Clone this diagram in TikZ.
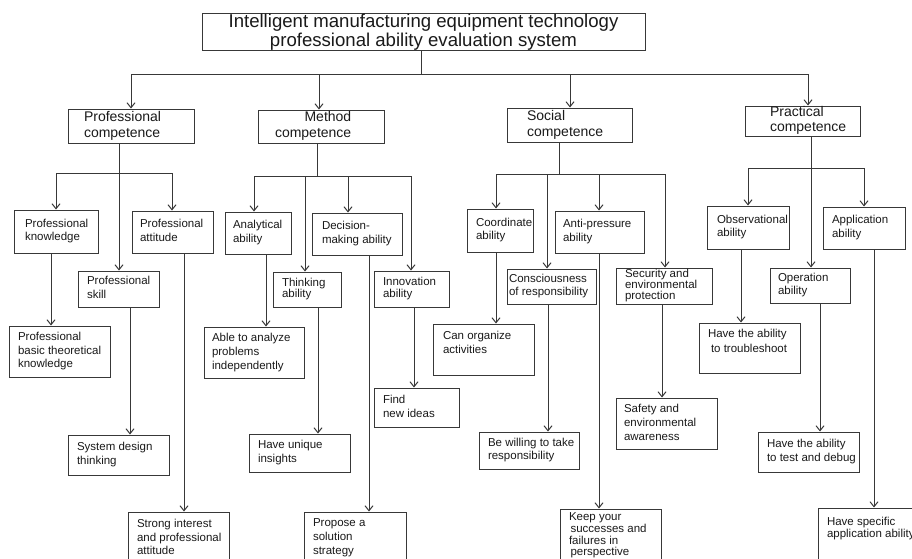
\documentclass[tikz,border=0pt]{standalone}
\usepackage{fontspec}
\setmainfont{Liberation Sans}
\usetikzlibrary{arrows.meta}
\definecolor{ln}{HTML}{383838}
\definecolor{tx}{HTML}{1A1A1A}
% #1 extra style, #2 name, #3 x1, #4 y1, #5 x2, #6 y2, #7 left text offset, #8 lines
\newcommand{\boxnode}[8][]{%
  \node[box,#1,minimum width={(#5)-(#3)},minimum height={(#6)-(#4)}] (#2) at ({((#3)+(#5))/2},{((#4)+(#6))/2})
  {\makebox[\dimexpr #5pt-#3pt-#7pt-#7pt\relax][l]{\begin{tabular}{@{}l@{}}#8\end{tabular}}};}
\begin{document}
\begin{tikzpicture}[x=1pt,y=-1pt,
  box/.style={draw=ln, line width=1pt, inner sep=0pt, text=tx, font=\fontsize{11.5}{13.5}\selectfont},
  lone/.style={font=\fontsize{14}{16}\selectfont},
  wire/.style={draw=ln, line width=1pt},
  arr/.style={draw=ln, line width=1pt, -{Straight Barb[length=5pt,width=8pt]}}]
\useasboundingbox (0,0) rectangle (912,558);
\fill[white] (0,0) rectangle (912,558);

% title
\node[box, font=\fontsize{18.6}{19}\selectfont, minimum width=443, minimum height=37, align=center] (title) at (423.5,32)
  {Intelligent manufacturing equipment technology\\professional ability evaluation system};

% level 1
\boxnode[lone]{pc}{68}{109}{194}{143}{16}{Professional\\competence}
\boxnode[lone]{mc}{258}{110}{384}{143}{17}{\hfill Method\hfill\\competence}
\boxnode[lone]{sc}{507}{108}{632}{142}{20}{Social\\competence}
\boxnode[lone,font=\fontsize{14}{15}\selectfont]{pr}{745}{106}{860}{136}{25}{Practical\\competence}

% level 2
\boxnode{pk}{14}{210}{98}{253}{11}{Professional\\knowledge}
\boxnode[font=\fontsize{11.5}{14}\selectfont]{ps}{78}{271}{159}{307}{9}{Professional\\skill}
\boxnode{pa}{132}{211}{213}{253}{8}{Professional\\attitude}
\boxnode{an}{225}{212}{291}{254}{8}{Analytical\\ability}
\boxnode[font=\fontsize{11.5}{11}\selectfont]{th}{273}{272}{341}{307}{9}{Thinking\\ability}
\boxnode{dm}{312}{213}{402}{255}{10}{Decision-\\making ability}
\boxnode[font=\fontsize{11.5}{11}\selectfont]{inn}{374}{271}{449}{307}{9}{Innovation\\ability}
\boxnode{co}{467}{209}{533}{252}{9}{Coordinate\\ability}
\boxnode[font=\fontsize{11.5}{12.6}\selectfont]{cr}{507}{269}{596}{304}{2}{Consciousness\\of responsibility}
\boxnode{ap}{555}{211}{644}{253}{8}{Anti-pressure\\ability}
\boxnode[font=\fontsize{11.5}{9.5}\selectfont]{se}{616}{268}{712}{304}{9}{Security and\\environmental\\protection}
\boxnode{ob}{707}{206}{789}{249}{10}{Observational\\ability}
\boxnode[font=\fontsize{11.5}{13}\selectfont]{op}{770}{268}{850}{303}{8}{Operation\\ability}
\boxnode{aa}{823}{207}{905}{249}{9}{Application\\ability}

% level 3
\boxnode{pbt}{9}{326}{110}{377}{9}{Professional\\basic theoretical\\knowledge}
\boxnode[font=\fontsize{11.5}{13.8}\selectfont]{ab}{204}{327}{304}{378}{8}{Able to analyze\\problems\\independently}
\boxnode[font=\fontsize{11.5}{14.5}\selectfont]{cao}{433}{324}{534}{375}{10}{Can organize\\activities\\[12pt]}
\boxnode[font=\fontsize{11.5}{14.5}\selectfont]{ht}{699}{323}{800}{373}{9}{Have the ability\\\hspace{3pt}to troubleshoot\\[12pt]}
\boxnode[font=\fontsize{11.5}{14}\selectfont]{fn}{374}{388}{459}{427}{9}{Find\\new ideas}
\boxnode{sdt}{68}{435}{169}{475}{9}{System design\\thinking}
\boxnode{hu}{249}{434}{350}{472}{9}{Have unique\\insights}
\boxnode[font=\fontsize{11.5}{13.7}\selectfont]{si}{128}{512}{229}{565}{9}{Strong interest\\and professional\\attitude}
\boxnode[font=\fontsize{11.5}{13.8}\selectfont]{pss}{304}{512}{406}{563}{9}{Propose a\\solution\\strategy}
\boxnode[font=\fontsize{11.5}{12.6}\selectfont]{bw}{479}{432}{579}{469}{9}{Be willing to take\\responsibility}
\boxnode[font=\fontsize{11.5}{14.2}\selectfont]{sa}{616}{398}{717}{449}{8}{Safety and\\environmental\\awareness}
\boxnode{td}{758}{432}{859}{472}{9}{Have the ability\\to test and debug}
\boxnode[font=\fontsize{11.5}{11}\selectfont]{ky}{560}{509}{661}{563}{9}{Keep your\\\hspace{1.5pt}successes and\\failures in\\\hspace{1.5pt}perspective}
\boxnode[font=\fontsize{11.5}{12.6}\selectfont]{hs}{818}{508}{930}{575}{9}{Have specific\\application ability\\[25pt]}

% title to level 1
\coordinate (tb) at (421,74);
\draw[wire] ([xshift=-2.5pt]title.south) -- (tb);
\draw[arr] (tb) -| (pc.north);
\draw[arr] (tb) -| ([xshift=-2pt]mc.north);
\draw[arr] (tb) -| ([xshift=0.5pt]sc.north);
\draw[arr] (tb) -| ([xshift=5.5pt]pr.north);

% professional group
\coordinate (pcb) at (119,173);
\draw[wire] (pc.south -| pcb) -- (pcb);
\draw[arr] (pcb) -| (pk.north);
\draw[arr] (pcb) -- (pcb |- ps.north);
\draw[arr] (pcb) -| ([xshift=-0.5pt]pa.north);

% method group
\coordinate (mcb) at (317,176);
\draw[wire] (mc.south -| mcb) -- (mcb);
\draw[arr] (mcb) -| ([xshift=-4pt]an.north);
\draw[arr] (mcb) -| ([xshift=-2pt]th.north);
\draw[arr] (mcb) -| ([xshift=-9pt]dm.north);
\draw[arr] (mcb) -| ([xshift=-0.5pt]inn.north);

% social group
\coordinate (scb) at (559,174);
\draw[wire] (sc.south -| scb) -- (scb);
\draw[arr] (scb) -| ([xshift=-4pt]co.north);
\draw[arr] (scb) -| ([xshift=-4.5pt]cr.north);
\draw[arr] (scb) -| ([xshift=-0.5pt]ap.north);
\draw[arr] (scb) -| ([xshift=1pt]se.north);

% practical group
\coordinate (prb) at (811,168);
\draw[wire] (pr.south -| prb) -- (prb);
\draw[arr] (prb) -| (ob.north);
\draw[arr] (prb) -| ([xshift=1pt]op.north);
\draw[arr] (prb) -| (aa.north);

% level 2 to level 3
\draw[arr] ([xshift=-5pt]pk.south) -- ([xshift=-5pt]pk.south |- pbt.north);
\draw[arr] ([xshift=11.5pt]ps.south) -- ([xshift=11.5pt]ps.south |- sdt.north);
\draw[arr] ([xshift=11.5pt]pa.south) -- ([xshift=11.5pt]pa.south |- si.north);
\draw[arr] ([xshift=8pt]an.south) -- ([xshift=8pt]an.south |- ab.north);
\draw[arr] ([xshift=11pt]th.south) -- ([xshift=11pt]th.south |- hu.north);
\draw[arr] ([xshift=12pt]dm.south) -- ([xshift=12pt]dm.south |- pss.north);
\draw[arr] ([xshift=2.5pt]inn.south) -- ([xshift=2.5pt]inn.south |- fn.north);
\draw[arr] ([xshift=-4pt]co.south) -- ([xshift=-4pt]co.south |- cao.north);
\draw[arr] ([xshift=-3.5pt]cr.south) -- ([xshift=-3.5pt]cr.south |- bw.north);
\draw[arr] ([xshift=-0.5pt]ap.south) -- ([xshift=-0.5pt]ap.south |- ky.north);
\draw[arr] ([xshift=-2pt]se.south) -- ([xshift=-2pt]se.south |- sa.north);
\draw[arr] ([xshift=-7pt]ob.south) -- ([xshift=-7pt]ob.south |- ht.north);
\draw[arr] ([xshift=10pt]op.south) -- ([xshift=10pt]op.south |- td.north);
\draw[arr] ([xshift=10pt]aa.south) -- ([xshift=10pt]aa.south |- hs.north);
\end{tikzpicture}
\end{document}
